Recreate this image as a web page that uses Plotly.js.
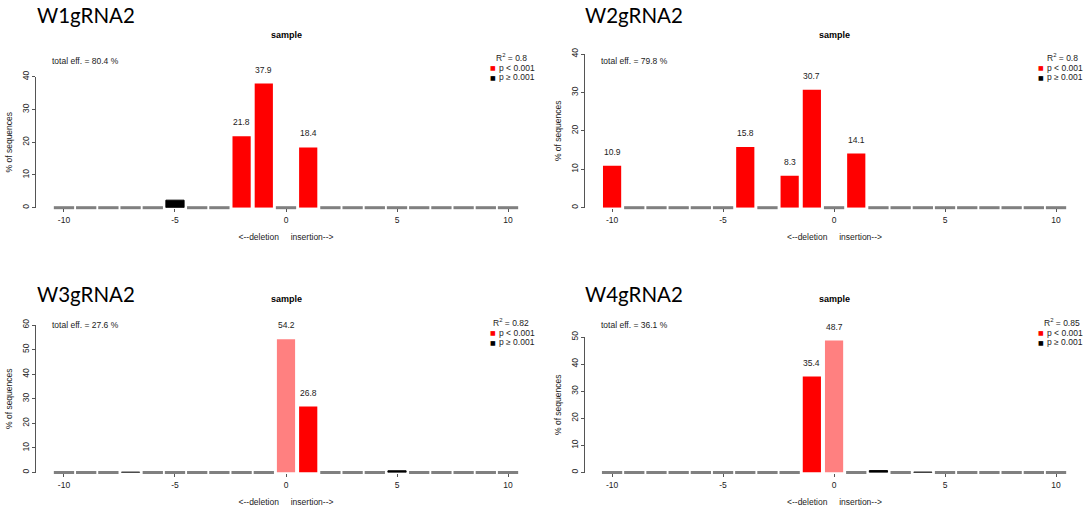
<!DOCTYPE html>
<html><head><meta charset="utf-8">
<script src="https://cdn.plot.ly/plotly-3.0.1.min.js"></script>
<style>html,body{margin:0;padding:0;background:#fff}#chart{width:1084px;height:512px}</style>
</head><body><div id="chart"></div>
<script>
// ---- data ----
const positions = [-10,-9,-8,-7,-6,-5,-4,-3,-2,-1,0,1,2,3,4,5,6,7,8,9,10];
const xTickValues = [-10,-5,0,5,10];
const xTickLabels = ['-10','-5','0','5','10'];
const panelNames = ['W1gRNA2','W2gRNA2','W3gRNA2','W4gRNA2'];
const w1Values = [0,0,0,0,0,2.3,0,0,21.8,37.9,0,18.4,0,0,0,0,0,0,0,0,0];
const w2Values = [10.9,0,0,0,0,0,15.8,0,8.3,30.7,0,14.1,0,0,0,0,0,0,0,0,0];
const w3Values = [0,0,0,0.15,0,0,0,0,0,0,54.2,26.8,0,0,0,0.7,0,0,0,0,0];
const w4Values = [0,0,0,0,0,0,0,0,0,35.4,48.7,0,0.7,0,0.15,0,0,0,0,0,0];
const w1Significant = [-2,-1,1];
const w2Significant = [-10,-4,-2,-1,1];
const w3Significant = [0,1];
const w4Significant = [-1,0];
const totalEff = [80.4, 79.8, 27.6, 36.1];
const rSquared = [0.8, 0.8, 0.82, 0.85];
const yTickMax = [40, 40, 60, 50];
const subTitle = 'sample';
const yTitle = '% of sequences';
const xTitle = '<--deletion\u00A0\u00A0\u00A0\u00A0\u00A0insertion-->';
const legendSig = 'p &lt; 0.001';
const legendNs = 'p \u2265 0.001';

// ---- layout geometry (pixels) ----
const W = 1084, H = 512;
const geom = [
  {xd:[36,536],  yd:[76.7,207.7], xr:[-11.26,11.26], zero:286, title:[35,15],  sample:34.5, eff:[50,61],   leg:[511,488,57]},
  {xd:[585,1084],yd:[54,207.7],   xr:[-11.22,11.26], zero:834, title:[583,15], sample:34.5, eff:[599,61],  leg:[1062,1036,57]},
  {xd:[36,536],  yd:[325,472.5],  xr:[-11.26,11.26], zero:286, title:[35,294], sample:299,  eff:[50,324.5],leg:[511,488,322]},
  {xd:[585,1084],yd:[337,472.5],  xr:[-11.22,11.26], zero:834, title:[583,294],sample:299,  eff:[599,324.5],leg:[1062,1036,322]}
];
const px = p => p / W;
const py = p => 1 - p / H;

const allValues = [w1Values, w2Values, w3Values, w4Values];
const allSig = [w1Significant, w2Significant, w3Significant, w4Significant];

const RED = '#ff0000', SALMON = '#ff8080', BLACK = '#000000', GREY = '#808080';
const FONT = 'Liberation Sans, Arial, sans-serif';
const FS = 8.5;

const traces = [];
const annotations = [];
const layout = {
  width: W, height: H,
  margin: {l:0, r:0, t:0, b:0},
  paper_bgcolor: '#ffffff', plot_bgcolor: '#ffffff',
  showlegend: false,
  barmode: 'overlay',
  font: {family: FONT, size: FS, color: '#222'}
};

allValues.forEach((vals, i) => {
  const s = i === 0 ? '' : String(i + 1);
  const g = geom[i];
  const sig = allSig[i];
  const xa = 'x' + s, ya = 'y' + s;

  // zero-height positions: grey baseline dashes
  const zx = positions.filter((p, k) => vals[k] === 0);
  traces.push({
    type: 'scatter', mode: 'markers', x: zx, y: zx.map(() => 0),
    xaxis: xa, yaxis: ya, cliponaxis: false, hoverinfo: 'skip',
    marker: {symbol: 'line-ew', size: 14.5, color: GREY, line: {width: 3, color: GREY}}
  });

  const groups = {sig: {x:[], y:[]}, wt: {x:[], y:[]}, ns: {x:[], y:[]}};
  positions.forEach((p, k) => {
    const v = vals[k];
    if (v <= 0) return;
    let key = 'ns';
    if (sig.includes(p)) key = p === 0 ? 'wt' : 'sig';
    groups[key].x.push(p); groups[key].y.push(v);
    if (key !== 'ns') {
      annotations.push({
        xref: xa, yref: ya, x: p, y: v, text: v.toFixed(1), showarrow: false,
        yanchor: 'middle', yshift: 14, font: {family: FONT, size: FS, color: '#222'}
      });
    }
  });
  traces.push({type:'bar', name: legendSig, x: groups.sig.x, y: groups.sig.y, width: 0.82,
    xaxis: xa, yaxis: ya, marker: {color: RED, line: {width: 0}}, hoverinfo: 'x+y'});
  traces.push({type:'bar', name: 'wt', x: groups.wt.x, y: groups.wt.y, width: 0.82,
    xaxis: xa, yaxis: ya, marker: {color: SALMON, line: {width: 0}}, hoverinfo: 'x+y'});
  traces.push({type:'bar', name: legendNs, x: groups.ns.x, y: groups.ns.y, width: 0.82,
    xaxis: xa, yaxis: ya, marker: {color: BLACK, line: {width: 1, color: BLACK}}, hoverinfo: 'x+y'});

  layout['xaxis' + s] = {
    domain: [px(g.xd[0]), px(g.xd[1])], anchor: ya, range: g.xr,
    showgrid: false, zeroline: false, showline: false,
    ticks: 'outside', ticklen: 3, tickwidth: 1, tickcolor: '#555',
    tickvals: xTickValues, ticktext: xTickLabels, ticklabelstandoff: 1,
    tickfont: {family: FONT, size: FS, color: '#222'},
    title: {text: xTitle, font: {family: FONT, size: FS, color: '#222'}, standoff: 10}
  };
  const yt = [];
  for (let t = 0; t <= yTickMax[i]; t += 10) yt.push(t);
  layout['yaxis' + s] = {
    domain: [py(g.yd[1]), py(g.yd[0])], anchor: xa, range: [0, yTickMax[i]],
    showgrid: false, zeroline: false, showline: true, linecolor: '#555', linewidth: 1,
    ticks: 'outside', ticklen: 3, tickwidth: 1, tickcolor: '#555',
    tickvals: yt, tickangle: -90,
    tickfont: {family: FONT, size: FS, color: '#222'},
    title: {text: yTitle, font: {family: FONT, size: FS, color: '#222'}, standoff: 6}
  };

  // panel title (big)
  annotations.push({xref:'paper', yref:'paper', x: px(g.title[0]), y: py(g.title[1]),
    xanchor:'left', yanchor:'middle', showarrow:false, text: panelNames[i],
    font:{family:'Lato, Carlito, sans-serif', size: 20.5, color:'#000'}});
  // subplot title
  annotations.push({xref:'paper', yref:'paper', x: px(g.zero), y: py(g.sample),
    xanchor:'center', yanchor:'middle', showarrow:false, text: '<b>' + subTitle + '</b>',
    font:{family: FONT, size: 9, color:'#000'}});
  // total efficiency
  annotations.push({xref:'paper', yref:'paper', x: px(g.eff[0]), y: py(g.eff[1]),
    xanchor:'left', yanchor:'middle', showarrow:false, text: 'total eff. = ' + totalEff[i] + ' %',
    font:{family: FONT, size: FS, color:'#222'}});
  // legend block
  annotations.push({xref:'paper', yref:'paper', x: px(g.leg[0]), y: py(g.leg[2]),
    xanchor:'center', yanchor:'middle', showarrow:false, text: 'R<sup>2</sup> = ' + rSquared[i],
    font:{family: FONT, size: FS, color:'#222'}});
  [[RED, legendSig, 10.5], [BLACK, legendNs, 20]].forEach(([col, label, dy]) => {
    annotations.push({xref:'paper', yref:'paper', x: px(g.leg[1]), y: py(g.leg[2] + dy),
      xanchor:'left', yanchor:'middle', showarrow:false, text: '\u25A0',
      font:{family: 'DejaVu Sans, sans-serif', size: 6, color: col}});
    annotations.push({xref:'paper', yref:'paper', x: px(g.leg[1] + 8.5), y: py(g.leg[2] + dy),
      xanchor:'left', yanchor:'middle', showarrow:false, text: label,
      font:{family: FONT, size: FS, color:'#222'}});
  });
});
layout.annotations = annotations;

Plotly.newPlot('chart', traces, layout, {displayModeBar: false, staticPlot: true});
</script>
</body></html>
